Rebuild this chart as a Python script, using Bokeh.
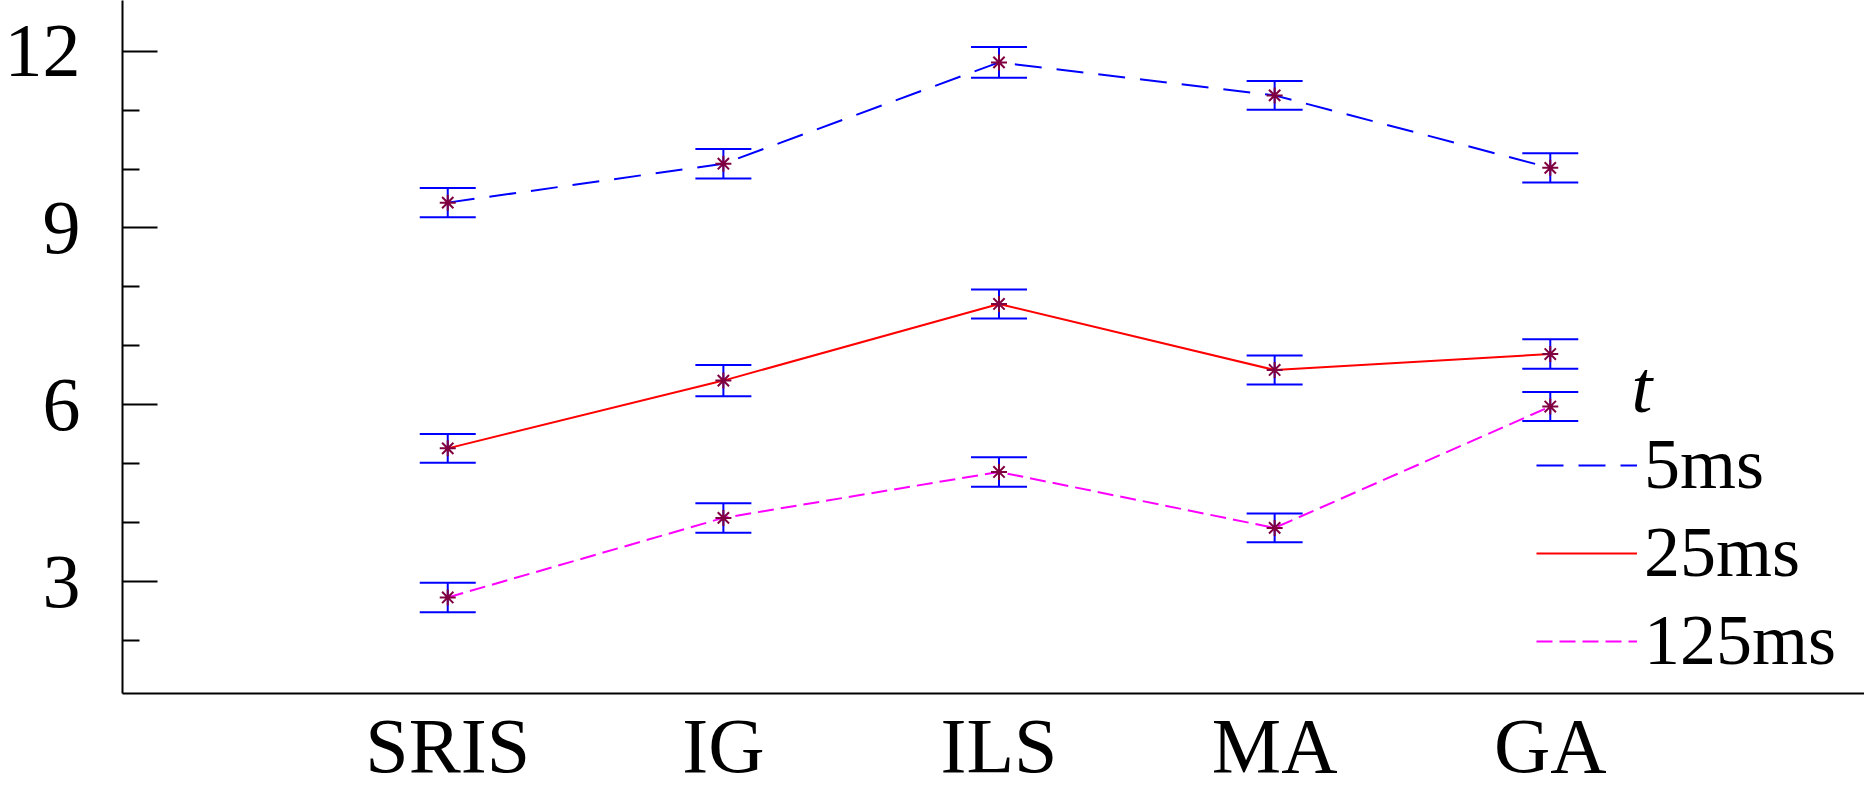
from bokeh.plotting import figure
from bokeh.models import (Range1d, FixedTicker, ColumnDataSource, Whisker, TeeHead,
                          Legend, LegendItem, Label)
from bokeh.embed import file_html
from bokeh.resources import INLINE

# ---- data ----
categories = ["SRIS", "IG", "ILS", "MA", "GA"]
series_names = ["5ms", "25ms", "125ms"]
mean_5ms = [9.43, 10.09, 11.81, 11.25, 10.02]
mean_25ms = [5.26, 6.41, 7.71, 6.59, 6.86]
mean_125ms = [2.73, 4.08, 4.86, 3.91, 5.97]
err_5ms = [0.25, 0.25, 0.26, 0.245, 0.25]
err_25ms = [0.245, 0.265, 0.245, 0.245, 0.25]
err_125ms = [0.25, 0.25, 0.25, 0.245, 0.245]
y_major_ticks = [3, 6, 9, 12]
y_minor_ticks = [2, 4, 5, 7, 8, 10, 11]
legend_title = "t"

FONT = "Liberation Serif"
x_pos = [i + 1 for i in range(len(categories))]

p = figure(width=1864, height=792, output_backend="svg", toolbar_location=None,
           x_range=Range1d(-0.18, 6.14), y_range=Range1d(1.1, 12.86),
           min_border_left=122, min_border_right=0, min_border_top=0,
           min_border_bottom=99)
p.outline_line_color = None
p.xgrid.grid_line_color = None
p.ygrid.grid_line_color = None
p.background_fill_color = "white"
p.border_fill_color = "white"

# y axis
p.yaxis.ticker = FixedTicker(ticks=y_major_ticks, minor_ticks=y_minor_ticks)
p.yaxis.major_tick_in = 35
p.yaxis.major_tick_out = 0
p.yaxis.minor_tick_in = 17
p.yaxis.minor_tick_out = 0
p.yaxis.major_tick_line_width = 2
p.yaxis.minor_tick_line_width = 2
p.yaxis.axis_line_width = 2
p.yaxis.major_label_text_font = FONT
p.yaxis.major_label_text_font_size = "76px"
p.yaxis.major_label_text_color = "black"
p.yaxis.major_label_standoff = 42

# x axis
p.xaxis.ticker = FixedTicker(ticks=x_pos, minor_ticks=[])
p.xaxis.major_label_overrides = {x: c for x, c in zip(x_pos, categories)}
p.xaxis.major_tick_in = 0
p.xaxis.major_tick_out = 0
p.xaxis.minor_tick_in = 0
p.xaxis.minor_tick_out = 0
p.xaxis.axis_line_width = 2
p.xaxis.major_label_text_font = FONT
p.xaxis.major_label_text_font_size = "78px"
p.xaxis.major_label_text_color = "black"
p.xaxis.major_label_standoff = 8

series = [
    (mean_5ms, err_5ms, "blue", "27 15"),
    (mean_25ms, err_25ms, "red", "solid"),
    (mean_125ms, err_125ms, "magenta", "16 7"),
]

items = []
for name, (m, e, col, dash) in zip(series_names, series):
    src = ColumnDataSource(dict(x=x_pos, y=m,
                                upper=[a + b for a, b in zip(m, e)],
                                lower=[a - b for a, b in zip(m, e)]))
    r = p.line("x", "y", source=src, line_color=col, line_width=2, line_dash=dash)
    p.scatter("x", "y", source=src, marker="asterisk", size=16,
              line_color="#800040", line_width=2)
    w = Whisker(source=src, base="x", upper="upper", lower="lower",
                line_color="blue", line_width=2,
                upper_head=TeeHead(size=56, line_color="blue", line_width=2),
                lower_head=TeeHead(size=56, line_color="blue", line_width=2))
    p.add_layout(w)
    items.append(LegendItem(label=name, renderers=[r]))

legend = Legend(items=items, location=(1414, 11),
                label_text_font=FONT, label_text_font_size="72px",
                label_text_color="black", glyph_width=101, glyph_height=40,
                label_standoff=7, spacing=5, padding=0, margin=0,
                border_line_color=None, background_fill_alpha=0)
p.add_layout(legend)

title_label = Label(x=1509, y=307, x_units="screen", y_units="screen",
                    text=legend_title, text_font=FONT, text_font_style="italic",
                    text_font_size="75px", text_color="black",
                    text_baseline="alphabetic", text_align="left")
p.add_layout(title_label)

open("out.html", "w").write(file_html(p, INLINE))
